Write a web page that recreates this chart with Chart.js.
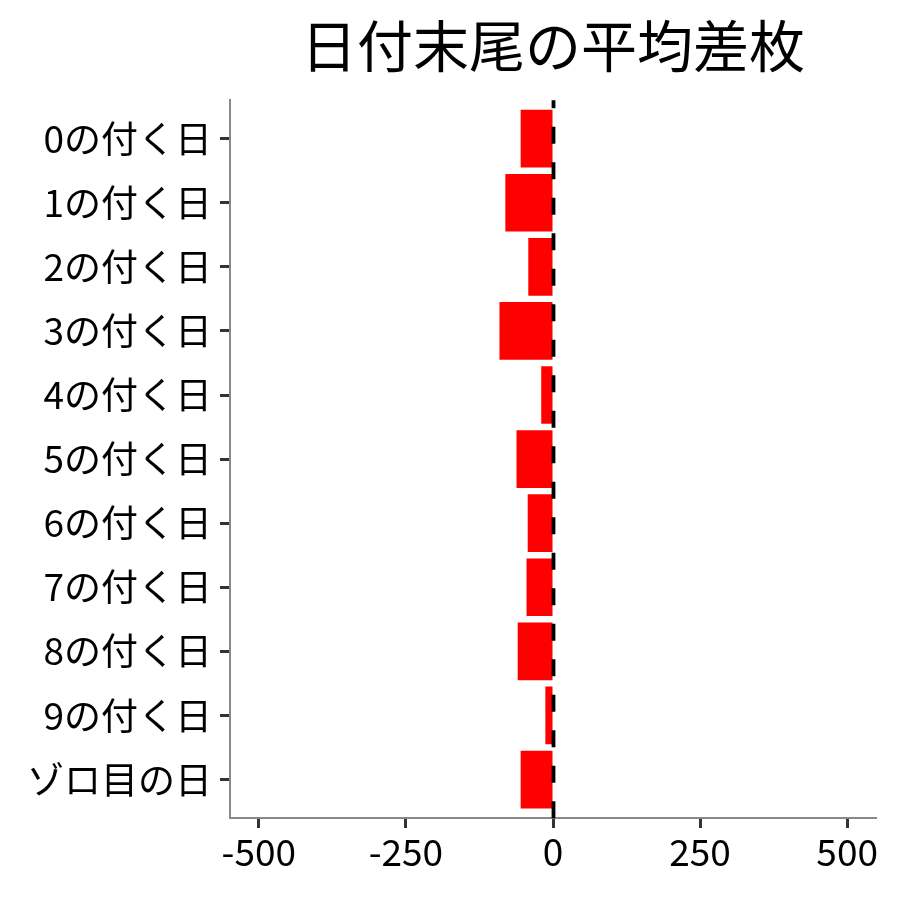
<!DOCTYPE html>
<html>
<head>
<meta charset="utf-8">
<script src="https://cdn.jsdelivr.net/npm/chart.js@4"></script>
<style>
html,body{margin:0;padding:0;background:#fff;}
#wrap{width:900px;height:900px;position:relative;}
</style>
</head>
<body>
<div id="wrap"><canvas id="c" width="900" height="900"></canvas></div>
<script>
const categories = ["0の付く日","1の付く日","2の付く日","3の付く日","4の付く日","5の付く日","6の付く日","7の付く日","8の付く日","9の付く日","ゾロ目の日"];
const avgDiff = [-55, -81, -42, -91, -20, -62, -43, -45, -60, -13, -55];
const xTicks = [-500, -250, 0, 250, 500];
const titleText = "日付末尾の平均差枚";

const FONT = "'Noto Sans CJK JP', 'Noto Sans', sans-serif";

const zeroLine = {
  id: 'zeroLine',
  afterDatasetsDraw(chart) {
    const {ctx, chartArea, scales} = chart;
    const x = scales.x.getPixelForValue(0);
    ctx.save();
    ctx.beginPath();
    ctx.setLineDash([17, 18.5]);
    ctx.lineDashOffset = 9;
    ctx.lineWidth = 3.8;
    ctx.strokeStyle = '#000';
    ctx.moveTo(x + 0.5, chartArea.top);
    ctx.lineTo(x + 0.5, chartArea.bottom + 6);
    ctx.stroke();
    ctx.restore();
  }
};

new Chart(document.getElementById('c'), {
  type: 'bar',
  data: {
    datasets: [{
      data: avgDiff.map((v, i) => ({x: v, y: i})),
      backgroundColor: '#FF0000',
      borderWidth: 0,
      barPercentage: 0.9,
      categoryPercentage: 1.0
    }]
  },
  options: {
    indexAxis: 'y',
    responsive: false,
    animation: false,
    devicePixelRatio: 1,
    layout: {padding: {left: 0, right: 24, top: 0, bottom: 0}},
    plugins: {
      legend: {display: false},
      tooltip: {enabled: false},
      title: {
        display: true,
        text: titleText,
        fullSize: false,
        color: '#000',
        font: {family: FONT, size: 56, weight: 'normal'},
        padding: {top: 12, bottom: 21}
      }
    },
    scales: {
      x: {
        type: 'linear',
        min: -549,
        max: 549,
        afterBuildTicks(scale) { scale.ticks = xTicks.map(v => ({value: v})); },
        afterFit(scale) { scale.height = 82; },
        grid: {drawOnChartArea: false, drawTicks: true, tickLength: 10, tickWidth: 3, tickColor: '#333'},
        border: {display: true, color: '#888', width: 2},
        ticks: {color: '#000', font: {family: FONT, size: 37}, padding: 2, maxRotation: 0}
      },
      y: {
        type: 'linear',
        reverse: true,
        offset: false,
        min: -0.6,
        max: 10.6,
        afterBuildTicks(scale) { scale.ticks = categories.map((c, i) => ({value: i})); },
        afterFit(scale) { scale.width = 230; },
        grid: {offset: false, drawOnChartArea: false, drawTicks: true, tickLength: 10, tickWidth: 3, tickColor: '#333'},
        border: {display: true, color: '#888', width: 2},
        ticks: {color: '#000', font: {family: FONT, size: 37}, padding: 8,
          callback: (v) => categories[v] !== undefined ? categories[v] : ''}
      }
    }
  },
  plugins: [zeroLine]
});
</script>
</body>
</html>
